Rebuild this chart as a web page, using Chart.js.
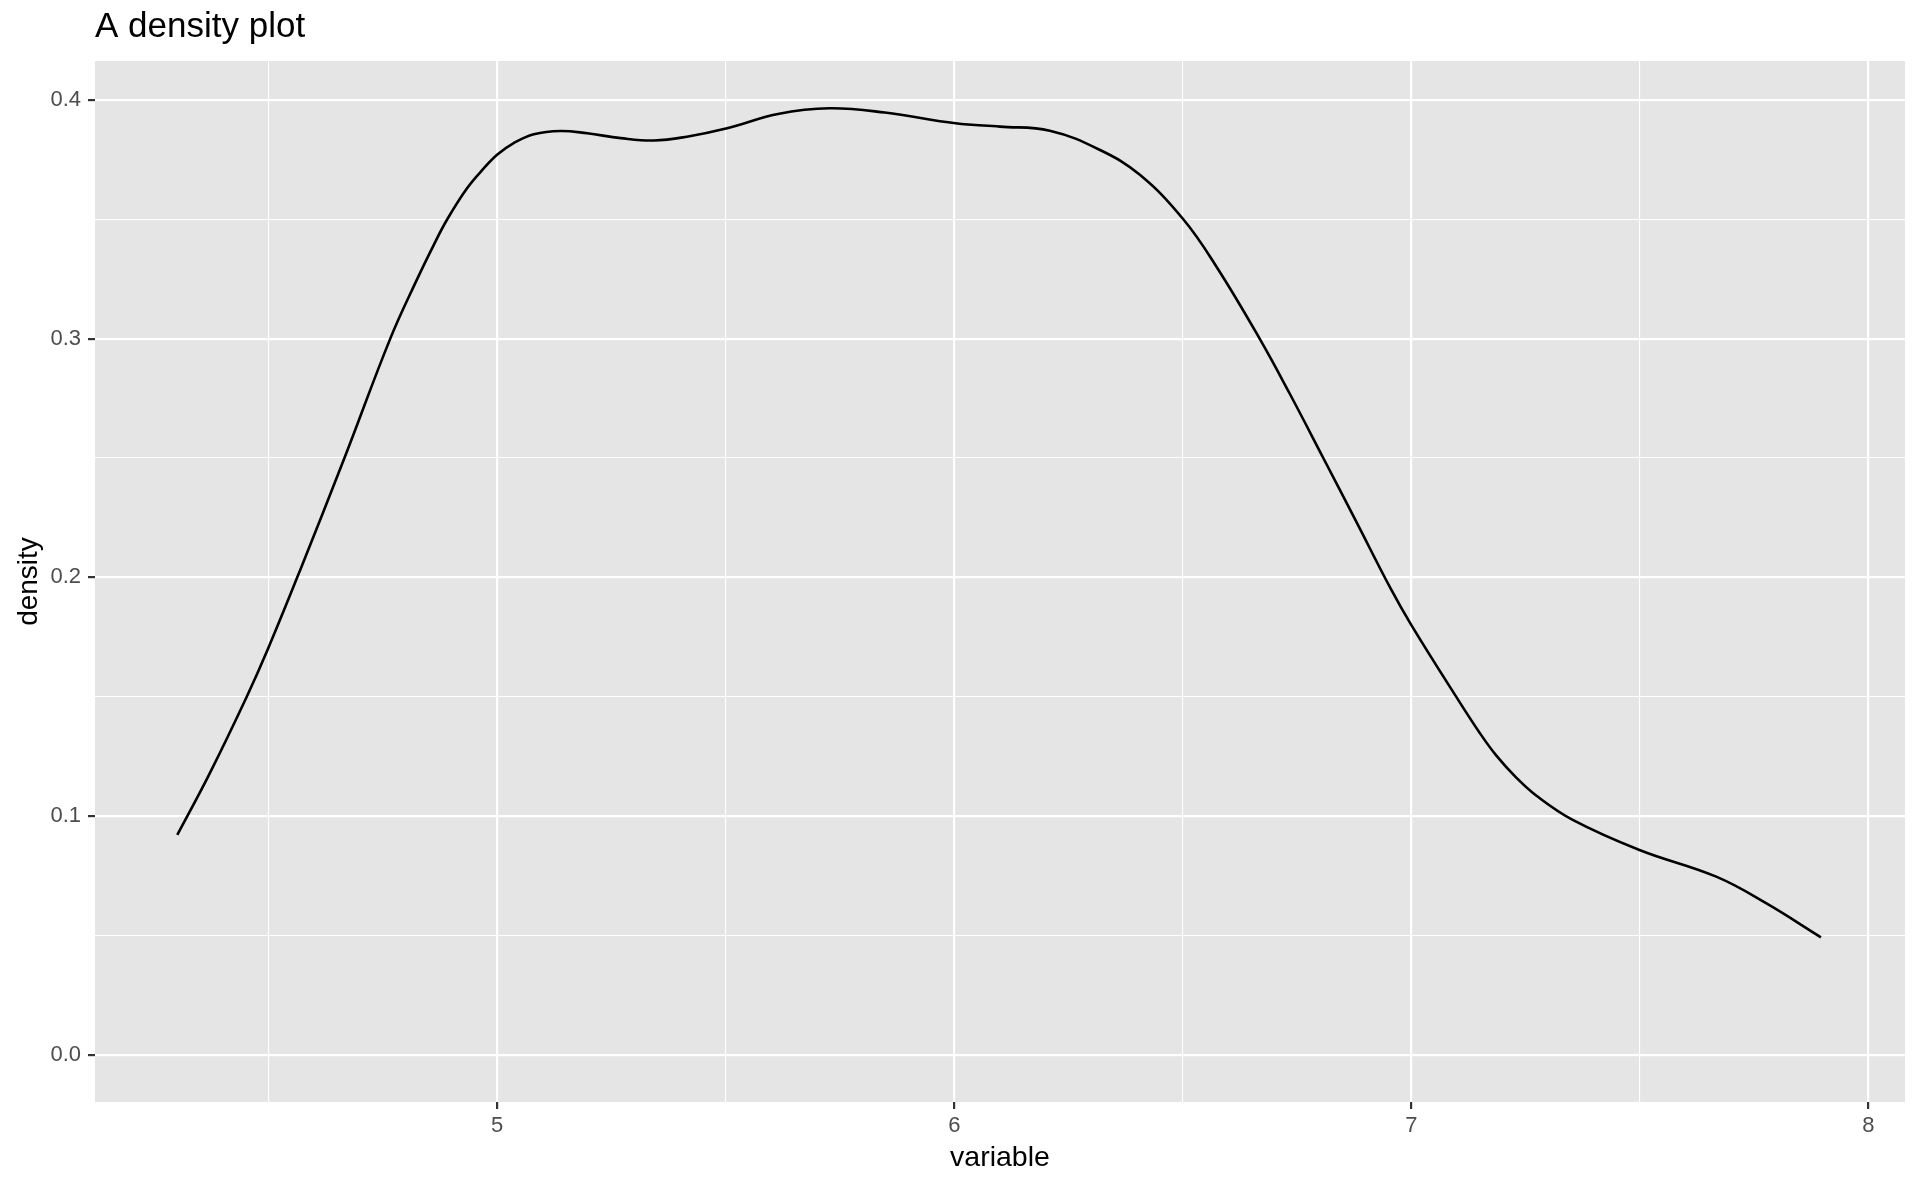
<!DOCTYPE html>
<html lang="en">
<head>
    <meta charset="UTF-8">
    <title>A density plot</title>
    <script src="https://cdn.jsdelivr.net/npm/chart.js"></script>
    <style>
        body {
            margin: 0;
            background: #ffffff;
        }
        .chart-container {
            width: 1920px;
            height: 1186px;
        }
    </style>
</head>
<body>
    <div class="chart-container">
        <canvas id="densityChart"></canvas>
    </div>

<script>
// valores
const densityX = [4.300, 4.371, 4.452, 4.499, 4.569, 4.667, 4.766, 4.824, 4.861, 4.891,
                  4.934, 4.971, 5.001, 5.036, 5.080, 5.138, 5.197, 5.270, 5.343, 5.415,
                  5.503, 5.614, 5.727, 5.848, 6.003, 6.100, 6.209, 6.319, 6.406, 6.501,
                  6.574, 6.668, 6.734, 6.807, 6.880, 6.956, 7.000, 7.098, 7.150, 7.186,
                  7.230, 7.273, 7.353, 7.499, 7.667, 7.776, 7.896];
const densityY = [0.0921, 0.1179, 0.1500, 0.1703, 0.2031, 0.2506, 0.3000, 0.3246, 0.3392, 0.3501,
                  0.3630, 0.3714, 0.3772, 0.3819, 0.3856, 0.3870, 0.3860, 0.3840, 0.3830, 0.3846,
                  0.3881, 0.3941, 0.3965, 0.3947, 0.3902, 0.3888, 0.3871, 0.3790, 0.3686, 0.3500,
                  0.3300, 0.3000, 0.2769, 0.2501, 0.2231, 0.1948, 0.1800, 0.1500, 0.1347, 0.1253,
                  0.1160, 0.1086, 0.0984, 0.0858, 0.0746, 0.0635, 0.0492];

const xMajor = [5, 6, 7, 8];
const xMinor = [4.5, 5.5, 6.5, 7.5];
const yMajor = [0, 0.1, 0.2, 0.3, 0.4];
const yMinor = [0.05, 0.15, 0.25, 0.35];

const xLimits = [4.12, 8.08];
const yLimits = [-0.0198, 0.4163];

const fontName = '"Liberation Sans", Arial, Helvetica, sans-serif';

// junta mayores y menores en un solo arreglo ordenado
function buildTicks(major, minor) {
    return major.concat(minor).sort((a, b) => a - b).map(v => ({ value: v }));
}
function isMajor(list, v) {
    return list.some(m => Math.abs(m - v) < 1e-9);
}

// fondo gris del panel
const panelBackground = {
    id: 'panelBackground',
    beforeDraw(chart) {
        const { ctx, chartArea } = chart;
        ctx.save();
        ctx.fillStyle = '#ffffff';
        ctx.fillRect(0, 0, chart.width, chart.height);
        ctx.fillStyle = '#E5E5E5';
        ctx.fillRect(chartArea.left, chartArea.top, chartArea.right - chartArea.left, chartArea.bottom - chartArea.top);
        ctx.restore();
    }
};

const points = densityX.map((x, i) => ({ x: x, y: densityY[i] }));

const ctx = document.getElementById('densityChart').getContext('2d');
const densityChart = new Chart(ctx, {
    type: 'scatter',
    data: {
        datasets: [{
            label: 'density',
            data: points,
            showLine: true,
            borderColor: '#000000',
            borderWidth: 2.6,
            pointRadius: 0,
            tension: 0.4,
            fill: false
        }]
    },
    options: {
        responsive: true,
        maintainAspectRatio: false,
        animation: false,
        layout: {
            padding: { top: 0, right: 15, bottom: 0, left: 0 }
        },
        plugins: {
            legend: { display: false },
            tooltip: { enabled: false },
            title: {
                display: true,
                text: 'A density plot',
                align: 'start',
                fullSize: false,
                color: '#000000',
                font: { family: fontName, size: 35, weight: 'normal' },
                padding: { top: 6, bottom: 13 }
            }
        },
        scales: {
            x: {
                type: 'linear',
                min: xLimits[0],
                max: xLimits[1],
                afterBuildTicks: scale => { scale.ticks = buildTicks(xMajor, xMinor); },
                afterFit: scale => { scale.height = 84; },
                border: { display: false },
                grid: {
                    color: '#ffffff',
                    lineWidth: c => isMajor(xMajor, c.tick.value) ? 2.2 : 1.1,
                    tickColor: c => isMajor(xMajor, c.tick.value) ? '#333333' : 'rgba(0,0,0,0)',
                    tickWidth: 2.2,
                    tickLength: 7
                },
                ticks: {
                    color: '#4D4D4D',
                    font: { family: fontName, size: 22 },
                    padding: 4,
                    maxRotation: 0,
                    autoSkip: false,
                    callback: v => isMajor(xMajor, v) ? String(v) : ''
                },
                title: {
                    display: true,
                    text: 'variable',
                    color: '#000000',
                    font: { family: fontName, size: 28.5 },
                    padding: { top: 0, bottom: 11 }
                }
            },
            y: {
                type: 'linear',
                min: yLimits[0],
                max: yLimits[1],
                afterBuildTicks: scale => { scale.ticks = buildTicks(yMajor, yMinor); },
                afterFit: scale => { scale.width = 95; },
                border: { display: false },
                grid: {
                    color: '#ffffff',
                    lineWidth: c => isMajor(yMajor, c.tick.value) ? 2.2 : 1.1,
                    tickColor: c => isMajor(yMajor, c.tick.value) ? '#333333' : 'rgba(0,0,0,0)',
                    tickWidth: 2.2,
                    tickLength: 7
                },
                ticks: {
                    color: '#4D4D4D',
                    font: { family: fontName, size: 22 },
                    padding: 7,
                    autoSkip: false,
                    callback: v => isMajor(yMajor, v) ? v.toFixed(1) : ''
                },
                title: {
                    display: true,
                    text: 'density',
                    color: '#000000',
                    font: { family: fontName, size: 28 },
                    padding: { top: 12, bottom: 0 }
                }
            }
        }
    },
    plugins: [panelBackground]
});
</script>
</body>
</html>
